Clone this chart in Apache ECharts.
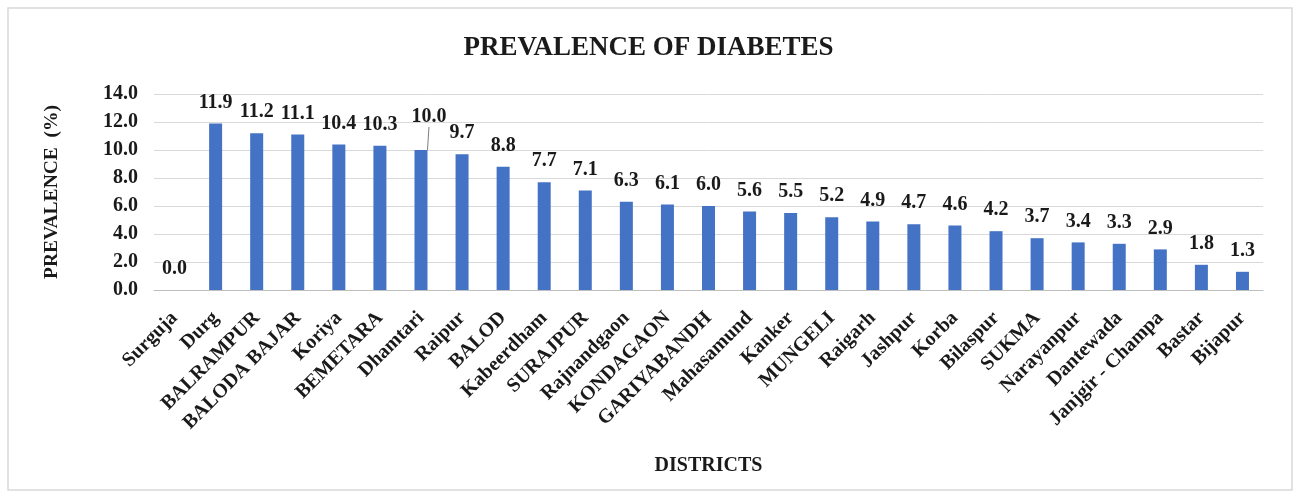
<!DOCTYPE html>
<html>
<head>
<meta charset="utf-8">
<script src="https://cdn.jsdelivr.net/npm/echarts@6/dist/echarts.min.js"></script>
<style>
html,body{margin:0;padding:0;background:#fff;}
#chart{width:1297px;height:498px;}
</style>
</head>
<body>
<div id="chart"></div>
<script>
const districts = ["Surguja","Durg","BALRAMPUR","BALODA BAJAR","Koriya","BEMETARA","Dhamtari","Raipur","BALOD","Kabeerdham","SURAJPUR","Rajnandgaon","KONDAGAON","GARIYABANDH","Mahasamund","Kanker","MUNGELI","Raigarh","Jashpur","Korba","Bilaspur","SUKMA","Narayanpur","Dantewada","Janjgir - Champa","Bastar","Bijapur"];
const prevalence = [0.0,11.9,11.2,11.1,10.4,10.3,10.0,9.7,8.8,7.7,7.1,6.3,6.1,6.0,5.6,5.5,5.2,4.9,4.7,4.6,4.2,3.7,3.4,3.3,2.9,1.8,1.3];
const yTicks = [0,2,4,6,8,10,12,14];
const titleText = "PREVALENCE OF DIABETES";
const yTitle = "PREVALENCE  (%)";
const xTitle = "DISTRICTS";

const serif = '"Liberation Serif","DejaVu Serif",serif';
const ink = '#1a1a1a';
const chart = echarts.init(document.getElementById('chart'), null, {renderer:'canvas'});

const seriesData = prevalence.map((v,i) => i === 6 ? {value:v, labelLine:{show:true, lineStyle:{color:'#7f7f7f', width:1}}} : v);

chart.setOption({
  backgroundColor:'#fff',
  animation:false,
  graphic:[{type:'rect', shape:{x:8, y:8, width:1284, height:482}, style:{fill:'none', stroke:'#d9d9d9', lineWidth:1.5}, silent:true}],
  title:{text:titleText, left:'center', top:30, textStyle:{fontFamily:serif, fontWeight:'bold', fontSize:27, color:ink}},
  grid:{left:154, right:34, top:94, bottom:208, containLabel:false},
  xAxis:{
    type:'category', data:districts,
    name:xTitle, nameLocation:'middle', nameGap:166,
    nameTextStyle:{fontFamily:serif, fontWeight:'bold', fontSize:20, color:ink},
    axisLine:{lineStyle:{color:'#bfbfbf', width:1}},
    axisTick:{show:false},
    axisLabel:{interval:0, rotate:45, margin:25, fontFamily:serif, fontWeight:'bold', fontSize:20, color:ink}
  },
  yAxis:{
    type:'value', min:yTicks[0], max:yTicks[yTicks.length-1], interval:2,
    name:yTitle, nameLocation:'middle', nameGap:92, nameRotate:90,
    nameTextStyle:{fontFamily:serif, fontWeight:'bold', fontSize:19.5, color:ink},
    axisLine:{show:false}, axisTick:{show:false},
    splitLine:{lineStyle:{color:'#d9d9d9', width:1}},
    axisLabel:{margin:16, fontFamily:serif, fontWeight:'bold', fontSize:20, color:ink, formatter:v => v.toFixed(1)}
  },
  series:[{
    type:'bar', data:seriesData, barWidth:13,
    itemStyle:{color:'#4472C4'},
    label:{show:true, position:'top', distance:11, fontFamily:serif, fontWeight:'bold', fontSize:20, color:ink, formatter:p => Number(p.value).toFixed(1)},
    labelLayout: p => p.dataIndex === 6 ? {dx:8, dy:-12} : {},
    labelLine:{show:false}
  }]
});
</script>
</body>
</html>
